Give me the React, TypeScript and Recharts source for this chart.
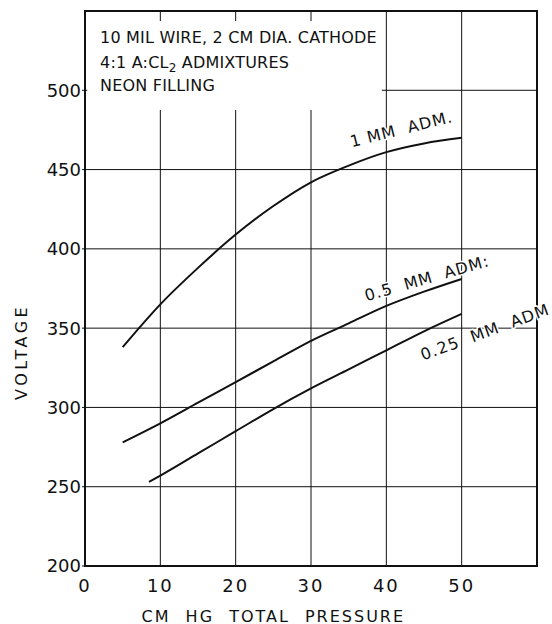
import {
  CartesianGrid,
  Line,
  LineChart,
  ReferenceArea,
  ReferenceDot,
  XAxis,
  YAxis,
} from "recharts";

// Breakdown voltage vs. total pressure, three admixture levels
const pressure1mm = [5, 10, 15, 20, 25, 30, 35, 40, 45, 50];
const voltage1mm = [338, 365, 388, 409, 427, 442, 452.5, 461, 466.5, 470];

const pressureHalfMm = [5, 10, 15, 20, 25, 30, 35, 40, 45, 50];
const voltageHalfMm = [278, 290, 303, 316, 329, 342, 353, 364, 373, 381];

const pressureQuarterMm = [8.5, 10, 15, 20, 25, 30, 35, 40, 45, 50];
const voltageQuarterMm = [253, 257, 271, 285, 299, 312, 324, 336, 348, 359];

const xTicks = [0, 10, 20, 30, 40, 50];
const yTicks = [200, 250, 300, 350, 400, 450, 500];

const FONT = "DejaVu Sans";
const INK = "#111";

const toPoints = (xs: number[], ys: number[]) => xs.map((p, i) => ({ p, v: ys[i] }));

const series = [
  { key: "1mm", data: toPoints(pressure1mm, voltage1mm) },
  { key: "0.5mm", data: toPoints(pressureHalfMm, voltageHalfMm) },
  { key: "0.25mm", data: toPoints(pressureQuarterMm, voltageQuarterMm) },
];

// curve captions, anchored in data units and tilted along the curves
const captions = [
  { text: "1 MM  ADM.", x: 42, y: 475.5, angle: -14, spacing: 1 },
  { text: "0.5  MM  ADM:", x: 45.4, y: 381.5, angle: -16, spacing: 1 },
  { text: "0.25  MM  ADM", x: 53.1, y: 347.5, angle: -20, spacing: 1.2 },
];

function Caption({ cx, cy, text, angle, spacing }: any) {
  return (
    <text
      x={cx}
      y={cy}
      textAnchor="middle"
      dominantBaseline="central"
      transform={`rotate(${angle} ${cx} ${cy})`}
      fontFamily={FONT}
      fontSize={16}
      letterSpacing={spacing}
      fill={INK}
      stroke="#fff"
      strokeWidth={3}
      paintOrder="stroke"
      style={{ whiteSpace: "pre" }}
    >
      {text}
    </text>
  );
}

function NoteBlock({ cx, cy }: any) {
  return (
    <text x={cx} y={cy} fontFamily={FONT} fontSize={16} fill={INK} letterSpacing={0.2}>
      <tspan x={cx}>10 MIL WIRE, 2 CM DIA. CATHODE</tspan>
      <tspan x={cx} dy={24.5}>
        4:1 A:CL
      </tspan>
      <tspan dy={4} fontSize={12}>
        2
      </tspan>
      <tspan dy={-4}> ADMIXTURES</tspan>
      <tspan x={cx} dy={23.5}>
        NEON FILLING
      </tspan>
    </text>
  );
}

function XTitle({ viewBox }: any) {
  const x = viewBox.x + (viewBox.width * 25) / 60;
  return (
    <text
      x={x}
      y={616}
      textAnchor="middle"
      dominantBaseline="central"
      fontFamily={FONT}
      fontSize={16}
      letterSpacing={2}
      wordSpacing={8}
      fill={INK}
    >
      CM HG TOTAL PRESSURE
    </text>
  );
}

function YTitle({ viewBox }: any) {
  const y = viewBox.y + (viewBox.height * (550 - 335)) / 350;
  const x = 22;
  return (
    <text
      x={x}
      y={y}
      textAnchor="middle"
      dominantBaseline="central"
      transform={`rotate(-90 ${x} ${y})`}
      fontFamily={FONT}
      fontSize={16}
      letterSpacing={3.5}
      fill={INK}
    >
      VOLTAGE
    </text>
  );
}

export default function App() {
  return (
    <div style={{ position: "absolute", left: 0, top: 0, width: 552, height: 624, background: "#fff" }}>
      <LineChart width={552} height={624} margin={{ top: 11, right: 15, left: 0, bottom: 0 }}>
        <CartesianGrid stroke={INK} strokeWidth={1} />
        <XAxis
          type="number"
          dataKey="p"
          domain={[0, 60]}
          ticks={xTicks}
          allowDataOverflow
          height={58}
          axisLine={false}
          tickLine={false}
          tickSize={6}
          tickMargin={7}
          tick={{ fill: INK, fontFamily: FONT, fontSize: 18, letterSpacing: 2 }}
          label={{ content: XTitle }}
        />
        <YAxis
          type="number"
          dataKey="v"
          domain={[200, 550]}
          ticks={yTicks}
          allowDataOverflow
          width={85}
          axisLine={false}
          tickSize={3}
          tickMargin={1}
          tickLine={{ stroke: INK, strokeWidth: 1 }}
          tick={{ fill: INK, fontFamily: FONT, fontSize: 18 }}
          label={{ content: YTitle }}
        />
        {/* blank panel behind the notes */}
        <ReferenceArea x1={0.3} x2={39.4} y1={487.6} y2={543.7} fill="#fff" fillOpacity={1} stroke="none" />
        {series.map((s) => (
          <Line
            key={s.key}
            data={s.data}
            dataKey="v"
            type="monotone"
            stroke={INK}
            strokeWidth={2}
            dot={false}
            isAnimationActive={false}
          />
        ))}
        <ReferenceArea x1={0} x2={60} y1={200} y2={550} fill="none" stroke={INK} strokeWidth={2} />
        <ReferenceDot x={2} y={529.6} r={0} shape={(p: any) => <NoteBlock {...p} />} />
        {captions.map((c) => (
          <ReferenceDot
            key={c.text}
            x={c.x}
            y={c.y}
            r={0}
            ifOverflow="visible"
            shape={(p: any) => <Caption {...p} text={c.text} angle={c.angle} spacing={c.spacing} />}
          />
        ))}
      </LineChart>
    </div>
  );
}
